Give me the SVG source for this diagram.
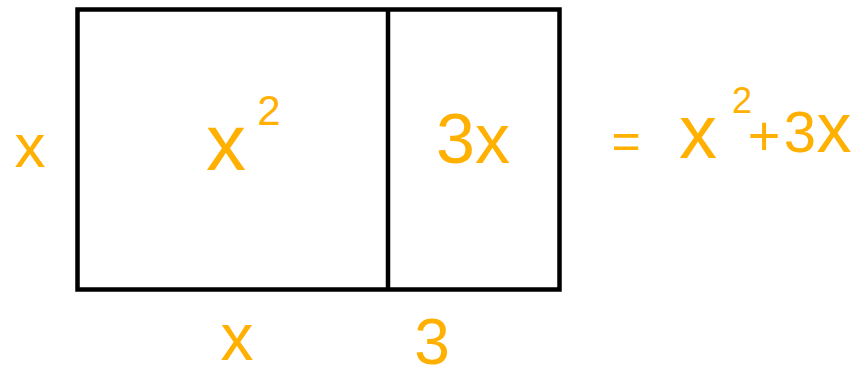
<svg xmlns="http://www.w3.org/2000/svg" width="859" height="377" viewBox="0 0 859 377">
<style>
.box{fill:none;stroke:#000;stroke-width:4.5}
.lbl{fill:#FFB000;font-family:"Liberation Sans","DejaVu Sans",sans-serif;text-anchor:middle}
</style>
<rect width="859" height="377" fill="#fff"/>
<g id="rectangle">
<rect class="box" x="77.5" y="9.5" width="482" height="280"/>
<line class="box" x1="388" y1="9.5" x2="388" y2="289"/>
</g>
<g id="labels">
<text class="lbl" x="30" y="167" font-size="62">x</text>
<text class="lbl" x="226" y="170" font-size="80">x</text>
<text class="lbl" x="269" y="125" font-size="42">2</text>
<text class="lbl" x="473" y="163" font-size="70">3x</text>
<g id="expression">
<text class="lbl" x="626" y="158" font-size="50">=</text>
<text class="lbl" x="698" y="158" font-size="76">x</text>
<text class="lbl" x="742" y="113" font-size="36">2</text>
<text class="lbl" x="764" y="155" font-size="56">+</text>
<text class="lbl" x="800" y="152" font-size="58">3</text>
<text class="lbl" x="834" y="152" font-size="70">x</text>
</g>
<text class="lbl" x="237" y="360" font-size="66">x</text>
<text class="lbl" x="432" y="364" font-size="64">3</text>
</g>
</svg>
